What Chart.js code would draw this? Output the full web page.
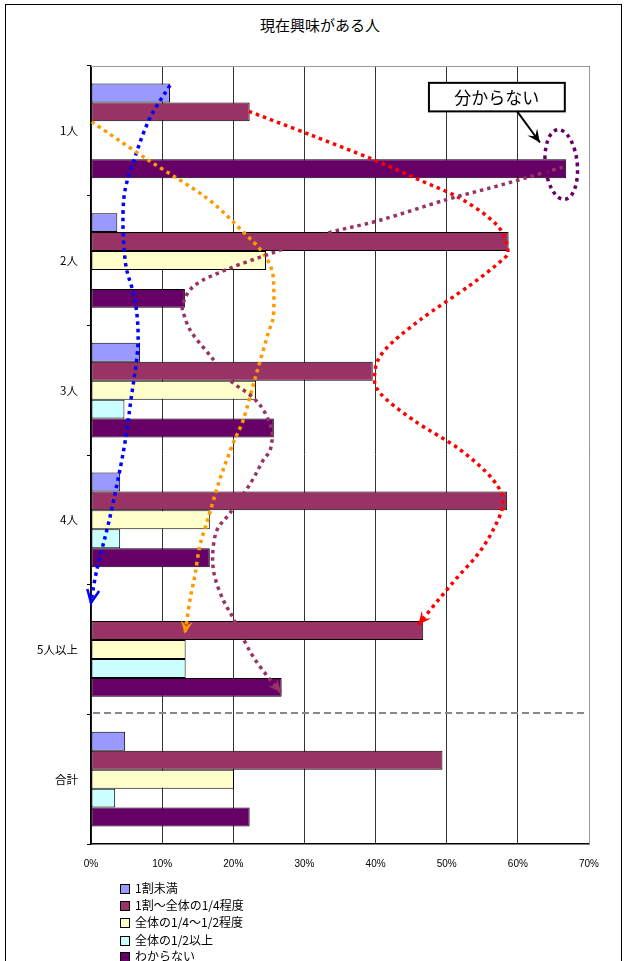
<!DOCTYPE html>
<html>
<head>
<meta charset="utf-8">
<script src="https://cdn.jsdelivr.net/npm/chart.js@4"></script>
<style>
  body { margin: 0; background: #fff; }
  #wrap { position: relative; width: 626px; height: 961px; overflow: hidden; }
  #frame { position: absolute; left: 5px; top: 4px; width: 615px; height: 1000px; border: 1.5px solid #000; }
  #title { position: absolute; left: 0; top: 14px; width: 640px; text-align: center; font: 15px 'Noto Sans CJK JP', sans-serif; color: #000; }
  canvas { position: absolute; left: 0; top: 0; }
  .leg { position: absolute; left: 120px; font: 12px 'Noto Sans CJK JP', sans-serif; color: #000; height: 16px; line-height: 16px; white-space: nowrap; }
  .leg i { display: inline-block; width: 8px; height: 8px; border: 1px solid #000; margin-right: 5px; vertical-align: -1px; }
</style>
</head>
<body>
<div id="wrap">
  <div id="frame"></div>
  <div id="title">現在興味がある人</div>
  <canvas id="chartInteresse" width="626" height="961"></canvas>
  <div id="legend"></div>
</div>
<script>
// カテゴリ・系列
const categorias = ['1人', '2人', '3人', '4人', '5人以上', '合計'];
const nomesSeries = ['1割未満', '1割～全体の1/4程度', '全体の1/4～1/2程度', '全体の1/2以上', 'わからない'];
const coresSeries = ['#9999FF', '#993366', '#FFFFCC', '#CCFFFF', '#660066'];

const menos10 = [11.1, 3.7, 6.9, 4.1, 0, 4.8];
const ate25 = [22.3, 58.7, 39.6, 58.5, 46.7, 49.4];
const ate50 = [0, 24.6, 23.2, 16.7, 13.3, 20.1];
const acima50 = [0, 0, 4.7, 4.1, 13.3, 3.4];
const naoSabe = [66.8, 13.2, 25.7, 16.7, 26.8, 22.3];

const ticksX = [0, 10, 20, 30, 40, 50, 60, 70];

// 注釈の曲線 (x = %, y = カテゴリ位置)
const curvaAzul = [[11.1,-0.35],[8.3,-0.10],[6.2,0.20],[4.6,0.53],[4.8,1.0],[6.2,1.31],[6.6,1.65],[5.6,2.08],[4.6,2.46],[2.7,2.97],[0.8,3.39],[0,3.64]];
const curvaVermelha = [[22.2,-0.15],[30.8,0.03],[39.6,0.22],[46.2,0.38],[52.2,0.53],[57.1,0.73],[58.6,0.92],[57.5,1.01],[53.3,1.19],[46.2,1.46],[41.3,1.69],[39.9,1.86],[40.6,2.02],[45.3,2.23],[51.9,2.46],[56.5,2.69],[57.9,2.87],[56.5,3.08],[54.3,3.27],[51.4,3.45],[48.8,3.62],[46.0,3.81]];
const curvaLaranja = [[0.1,-0.07],[7.9,0.22],[16.3,0.52],[21.4,0.78],[24.0,0.93],[25.4,1.07],[25.7,1.23],[25.6,1.44],[24.9,1.56],[23.8,1.77],[22.8,1.96],[21.4,2.23],[19.9,2.42],[18.1,2.69],[16.4,3.00],[15.3,3.20],[14.6,3.43],[13.9,3.62],[13.2,3.88]];
const curvaRoxa = [[66.3,0.28],[57.5,0.42],[50.0,0.53],[40.6,0.69],[33.2,0.79],[26.1,0.93],[19.5,1.06],[14.6,1.19],[12.9,1.34],[13.2,1.44],[14.2,1.56],[16.7,1.73],[19.5,1.92],[22.4,2.04],[24.2,2.15],[25.4,2.31],[25.2,2.46],[24.2,2.54],[22.4,2.72],[19.5,2.95],[17.7,3.08],[17.1,3.27],[17.4,3.44],[18.6,3.62],[20.0,3.76],[22.4,4.02],[24.7,4.20],[26.7,4.33]];
const elipse = { x: 66.1, y: 0.26, rx: 2.25, ry: 0.27 };
const caixaTexto = { texto: '分からない', x1: 47.5, x2: 66.6, y1: -0.37, y2: -0.15, setaDe: [59.9, -0.15], setaPara: [63.1, 0.09] };
const linhaTracejada = 4.49;

Chart.defaults.font.family = "'Noto Sans CJK JP', sans-serif";
Chart.defaults.color = '#000';

const seriesDados = [menos10, ate25, ate50, acima50, naoSabe];

// legenda em HTML
const legenda = document.getElementById('legend');
const legY = [880, 897, 914, 932, 948];
nomesSeries.forEach((n, i) => {
    const d = document.createElement('div');
    d.className = 'leg';
    d.style.top = legY[i] + 'px';
    d.innerHTML = '<i style="background:' + coresSeries[i] + '"></i>' + n;
    legenda.appendChild(d);
});

function caminhoSuave(ctx, pts) {
    ctx.moveTo(pts[0][0], pts[0][1]);
    for (let i = 0; i < pts.length - 1; i++) {
        const p0 = pts[Math.max(i - 1, 0)], p1 = pts[i], p2 = pts[i + 1], p3 = pts[Math.min(i + 2, pts.length - 1)];
        ctx.bezierCurveTo(
            p1[0] + (p2[0] - p0[0]) / 6, p1[1] + (p2[1] - p0[1]) / 6,
            p2[0] - (p3[0] - p1[0]) / 6, p2[1] - (p3[1] - p1[1]) / 6,
            p2[0], p2[1]);
    }
}

function pontaSeta(ctx, a, b, cor, aberta) {
    const ang = Math.atan2(b[1] - a[1], b[0] - a[0]);
    const L = 13, W = 6;
    const bx = b[0] - L * Math.cos(ang), by = b[1] - L * Math.sin(ang);
    const px = -Math.sin(ang) * W, py = Math.cos(ang) * W;
    ctx.save();
    ctx.setLineDash([]);
    ctx.strokeStyle = cor;
    ctx.fillStyle = cor;
    ctx.beginPath();
    if (aberta) {
        ctx.lineWidth = 2.5;
        ctx.moveTo(bx + px, by + py);
        ctx.lineTo(b[0], b[1]);
        ctx.lineTo(bx - px, by - py);
        ctx.stroke();
    } else {
        const mx = b[0] - L * 0.6 * Math.cos(ang), my = b[1] - L * 0.6 * Math.sin(ang);
        ctx.moveTo(b[0], b[1]);
        ctx.lineTo(bx + px, by + py);
        ctx.lineTo(mx, my);
        ctx.lineTo(bx - px, by - py);
        ctx.closePath();
        ctx.fill();
    }
    ctx.restore();
}

const anotacoes = {
    id: 'anotacoes',
    beforeDatasetsDraw(chart) {
        const { ctx, chartArea: a } = chart;
        ctx.save();
        ctx.strokeStyle = '#999';
        ctx.lineWidth = 1;
        ctx.beginPath();
        ctx.moveTo(a.left, a.top + 0.5);
        ctx.lineTo(a.right + 0.5, a.top + 0.5);
        ctx.lineTo(a.right + 0.5, a.bottom);
        ctx.stroke();
        ctx.restore();
    },
    afterDatasetsDraw(chart) {
        const { ctx, scales: { x, y }, chartArea: a } = chart;
        const px = p => [x.getPixelForValue(p[0]), y.getPixelForValue(p[1])];
        ctx.save();

        // linha tracejada
        const yl = y.getPixelForValue(linhaTracejada);
        ctx.strokeStyle = '#888';
        ctx.lineWidth = 2;
        ctx.setLineDash([7, 4]);
        ctx.beginPath();
        ctx.moveTo(a.left + 2, yl);
        ctx.lineTo(a.right - 2, yl);
        ctx.stroke();

        const curvas = [
            [curvaAzul, '#0000FF', true],
            [curvaVermelha, '#FF0000', false],
            [curvaLaranja, '#FF9900', false],
            [curvaRoxa, '#993366', false]
        ];
        curvas.forEach(([c, cor, aberta]) => {
            const pts = c.map(px);
            ctx.strokeStyle = cor;
            ctx.lineWidth = 3.5;
            ctx.setLineDash([3.5, 4]);
            ctx.beginPath();
            caminhoSuave(ctx, pts);
            ctx.stroke();
            pontaSeta(ctx, pts[pts.length - 2], pts[pts.length - 1], cor, aberta);
        });

        // elipse
        const c = px([elipse.x, elipse.y]);
        const rx = x.getPixelForValue(elipse.x + elipse.rx) - c[0];
        const ry = y.getPixelForValue(elipse.y + elipse.ry) - c[1];
        ctx.strokeStyle = '#660066';
        ctx.lineWidth = 3.5;
        ctx.setLineDash([3.5, 4]);
        ctx.beginPath();
        ctx.ellipse(c[0], c[1], rx, ry, -0.1, 0, Math.PI * 2);
        ctx.stroke();

        // caixa de texto
        const b1 = px([caixaTexto.x1, caixaTexto.y1]);
        const b2 = px([caixaTexto.x2, caixaTexto.y2]);
        ctx.setLineDash([]);
        ctx.fillStyle = '#fff';
        ctx.fillRect(b1[0], b1[1], b2[0] - b1[0], b2[1] - b1[1]);
        ctx.strokeStyle = '#000';
        ctx.lineWidth = 2;
        ctx.strokeRect(b1[0], b1[1], b2[0] - b1[0], b2[1] - b1[1]);
        ctx.fillStyle = '#000';
        ctx.font = "17px 'Noto Sans CJK JP', sans-serif";
        ctx.textAlign = 'center';
        ctx.textBaseline = 'middle';
        ctx.fillText(caixaTexto.texto, (b1[0] + b2[0]) / 2, (b1[1] + b2[1]) / 2);

        const s1 = px(caixaTexto.setaDe), s2 = px(caixaTexto.setaPara);
        ctx.lineWidth = 2;
        ctx.beginPath();
        ctx.moveTo(s1[0], s1[1]);
        ctx.lineTo(s2[0], s2[1]);
        ctx.stroke();
        pontaSeta(ctx, s1, s2, '#000', false);

        ctx.restore();
    }
};

new Chart(document.getElementById('chartInteresse'), {
    type: 'bar',
    data: {
        labels: categorias,
        datasets: seriesDados.map((d, i) => ({
            label: nomesSeries[i],
            data: d,
            backgroundColor: coresSeries[i],
            borderColor: '#000',
            borderWidth: 1,
            borderSkipped: false,
            categoryPercentage: 0.73,
            barPercentage: 1.0
        }))
    },
    options: {
        indexAxis: 'y',
        responsive: false,
        animation: false,
        layout: { padding: { top: 66, right: 37, bottom: 87, left: 0 } },
        scales: {
            x: {
                min: 0,
                max: 70,
                afterBuildTicks: s => { s.ticks = ticksX.map(v => ({ value: v })); },
                afterFit: s => { s.height = 30; },
                ticks: {
                    callback: v => v + '%',
                    font: { family: "'Liberation Sans', Arial, sans-serif", size: 10 },
                    color: '#000',
                    padding: 14
                },
                grid: { color: '#333', lineWidth: 1, drawTicks: false },
                border: { color: '#000', width: 1.5 }
            },
            y: {
                afterFit: s => { s.width = 91; },
                ticks: { font: { size: 11.5 }, color: '#000', padding: 9 },
                grid: { drawOnChartArea: false, tickLength: 4, color: '#000', offset: true },
                border: { color: '#000', width: 1.5 }
            }
        },
        plugins: {
            legend: { display: false },
            tooltip: { enabled: false }
        }
    },
    plugins: [anotacoes]
});
</script>
</body>
</html>
